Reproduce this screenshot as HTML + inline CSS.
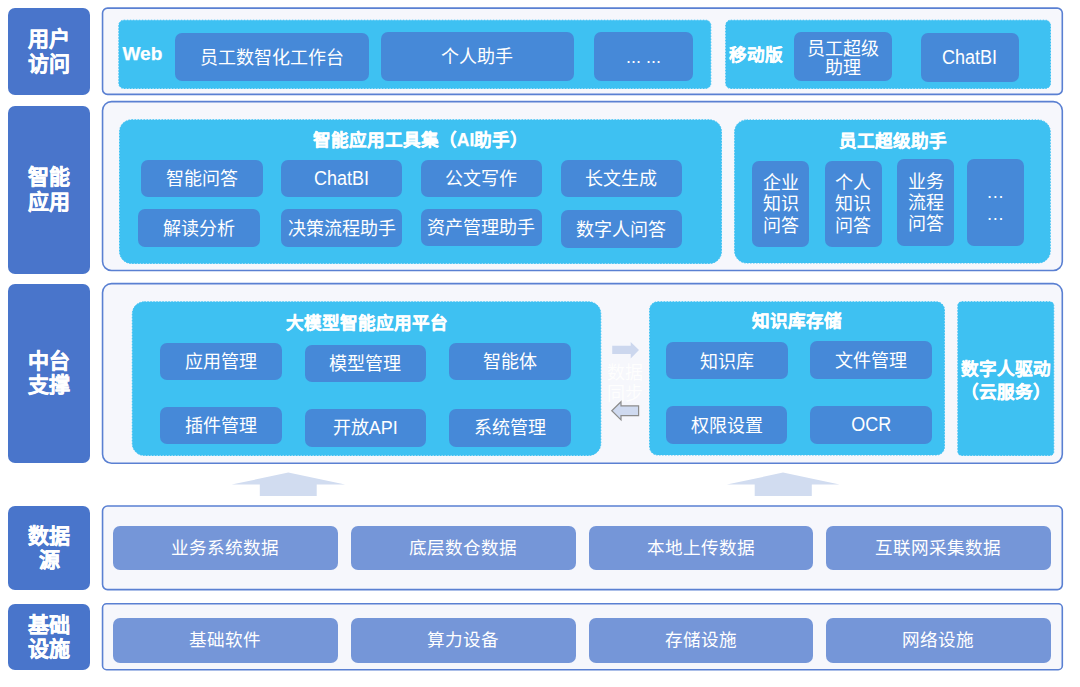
<!DOCTYPE html>
<html lang="zh-CN"><head><meta charset="utf-8"><title>architecture</title>
<style>
html,body{margin:0;padding:0;background:#fff;}
body{width:1080px;height:687px;position:relative;overflow:hidden;font-family:"Liberation Sans",sans-serif;}
div{position:absolute;box-sizing:border-box;}
.lab{background:#4975cb;border-radius:7px;color:#fff;font-weight:bold;-webkit-text-stroke:0.4px #fff;font-size:21px;line-height:24.5px;display:flex;align-items:center;justify-content:center;text-align:center;}
.btn{background:#4689d8;border-radius:7px;color:#fff;font-size:18px;line-height:20px;padding-top:1.5px;display:flex;align-items:center;justify-content:center;text-align:center;white-space:nowrap;}
.btn.ml{line-height:21.3px;padding-top:2px;}
.dbtn{background:#7596d8;border-radius:7px;color:#fff;font-size:17.6px;padding-bottom:3.5px;display:flex;align-items:center;justify-content:center;white-space:nowrap;}
.ttl{color:#fff;font-weight:bold;font-size:17.6px;-webkit-text-stroke:0.25px #fff;display:flex;align-items:center;justify-content:center;white-space:nowrap;text-align:center;}
.ml2{line-height:23px;}
.lt{display:inline-block;font-size:20px;transform:scaleX(0.9);position:relative;top:-1.5px;}
.faint{color:#ffffff;font-size:18px;line-height:21.5px;display:flex;align-items:center;justify-content:center;text-align:center;opacity:0.9}
</style></head><body>
<svg style="position:absolute;left:0;top:0" width="1080" height="687" viewBox="0 0 1080 687"><rect x="102.55" y="8.1" width="959.75" height="86.3" rx="5" fill="#f6f7fc" stroke="#5a80d2" stroke-width="1.6"/><rect x="102.55" y="101.6" width="959.75" height="168.9" rx="9" fill="#f6f7fc" stroke="#5a80d2" stroke-width="1.6"/><rect x="102.55" y="283.6" width="959.75" height="179.6" rx="9" fill="#f6f7fc" stroke="#5a80d2" stroke-width="1.6"/><rect x="102.55" y="506" width="959.75" height="83.6" rx="5" fill="#f6f7fc" stroke="#5a80d2" stroke-width="1.6"/><rect x="102.55" y="603.8" width="959.75" height="65.9" rx="4" fill="#f6f7fc" stroke="#5a80d2" stroke-width="1.6"/><rect x="118.8" y="20.2" width="592.0" height="68.3" rx="5" fill="#3ec1f2" stroke="#3ec1f2" stroke-width="1" stroke-dasharray="1.5 1.5"/><rect x="725.7" y="20.2" width="324.8" height="68.3" rx="5" fill="#3ec1f2" stroke="#3ec1f2" stroke-width="1" stroke-dasharray="1.5 1.5"/><rect x="119.5" y="119.8" width="602" height="143.7" rx="12" fill="#3ec1f2" stroke="#3ec1f2" stroke-width="1" stroke-dasharray="1.5 1.5"/><rect x="734.6" y="119.9" width="315.7" height="143.1" rx="12" fill="#3ec1f2" stroke="#3ec1f2" stroke-width="1" stroke-dasharray="1.5 1.5"/><rect x="132.3" y="301.8" width="468.5" height="153.7" rx="12" fill="#3ec1f2" stroke="#3ec1f2" stroke-width="1" stroke-dasharray="1.5 1.5"/><rect x="649.6" y="301.8" width="294.9" height="153.2" rx="8" fill="#3ec1f2" stroke="#3ec1f2" stroke-width="1" stroke-dasharray="1.5 1.5"/><rect x="957.8" y="301.7" width="96.0" height="153.8" rx="4" fill="#3ec1f2" stroke="#3ec1f2" stroke-width="1" stroke-dasharray="1.5 1.5"/></svg>
<div class="lab" style="left:8.3px;top:8px;width:82.0px;height:87px;">用户<br>访问</div>
<div class="lab" style="left:8.3px;top:105.5px;width:82.0px;height:168.5px;">智能<br>应用</div>
<div class="lab" style="left:8.3px;top:283.7px;width:82.0px;height:179.3px;">中台<br>支撑</div>
<div class="lab" style="left:8.3px;top:506.3px;width:82.0px;height:83.7px;">数据<br>源</div>
<div class="lab" style="left:8.3px;top:604.3px;width:82.0px;height:65.7px;">基础<br>设施</div>
<div class="btn" style="left:175.4px;top:32.9px;width:193.6px;height:47.9px;">员工数智化工作台</div>
<div class="btn" style="left:381px;top:32.4px;width:192.9px;height:48.4px;">个人助手</div>
<div class="btn" style="left:594.3px;top:32.4px;width:98.4px;height:48.4px;"><span style="letter-spacing:0">... ...</span></div>
<div class="btn ml" style="left:794px;top:32.2px;width:98px;height:48.5px;"><span style="display:block;line-height:19px;padding-top:4px">员工超级<br>助理</span></div>
<div class="btn" style="left:920.5px;top:33.3px;width:98.2px;height:48.4px;"><span class="lt">ChatBI</span></div>
<div class="btn" style="left:140.6px;top:160px;width:122.2px;height:37px;">智能问答</div>
<div class="btn" style="left:280.6px;top:160px;width:121.9px;height:37px;"><span class="lt">ChatBI</span></div>
<div class="btn" style="left:420.8px;top:159.8px;width:121.2px;height:37.2px;">公文写作</div>
<div class="btn" style="left:561px;top:159.8px;width:120.7px;height:37.2px;">长文生成</div>
<div class="btn" style="left:137.8px;top:209.2px;width:122.2px;height:38.3px;">解读分析</div>
<div class="btn" style="left:280.6px;top:209.2px;width:121.9px;height:38.3px;">决策流程助手</div>
<div class="btn" style="left:420.8px;top:208.7px;width:121.2px;height:37.3px;">资产管理助手</div>
<div class="btn" style="left:561px;top:210px;width:120.7px;height:37.5px;">数字人问答</div>
<div class="btn ml" style="left:752.4px;top:160.6px;width:56.7px;height:86.9px;">企业<br>知识<br>问答</div>
<div class="btn ml" style="left:824.7px;top:160.6px;width:57.3px;height:86.9px;">个人<br>知识<br>问答</div>
<div class="btn ml" style="left:897.3px;top:159.4px;width:57.0px;height:86.6px;">业务<br>流程<br>问答</div>
<div class="btn ml" style="left:967px;top:159.4px;width:56.6px;height:86.6px;">…<br>…</div>
<div class="btn" style="left:159.8px;top:342.7px;width:121.9px;height:37.3px;">应用管理</div>
<div class="btn" style="left:304.6px;top:344.5px;width:121.4px;height:37.7px;">模型管理</div>
<div class="btn" style="left:448.9px;top:342.8px;width:121.9px;height:36.9px;">智能体</div>
<div class="btn" style="left:160.4px;top:406.6px;width:121.3px;height:37.6px;">插件管理</div>
<div class="btn" style="left:304.6px;top:408.6px;width:121.4px;height:38.0px;">开放API</div>
<div class="btn" style="left:448.9px;top:408.6px;width:121.9px;height:38.0px;">系统管理</div>
<div class="btn" style="left:665.8px;top:342.4px;width:121.8px;height:37.1px;">知识库</div>
<div class="btn" style="left:810.4px;top:341.3px;width:121.5px;height:37.6px;">文件管理</div>
<div class="btn" style="left:665.8px;top:406.1px;width:121.5px;height:37.9px;">权限设置</div>
<div class="btn" style="left:810.4px;top:406.1px;width:121.5px;height:37.9px;"><span class="lt">OCR</span></div>
<div class="dbtn" style="left:112.7px;top:526px;width:225.3px;height:44px;">业务系统数据</div>
<div class="dbtn" style="left:351px;top:526px;width:224.7px;height:44px;">底层数仓数据</div>
<div class="dbtn" style="left:589px;top:526px;width:224.3px;height:44px;">本地上传数据</div>
<div class="dbtn" style="left:826px;top:526px;width:224.7px;height:44px;">互联网采集数据</div>
<div class="dbtn" style="left:112.7px;top:618.3px;width:225.3px;height:44.4px;">基础软件</div>
<div class="dbtn" style="left:351px;top:618.3px;width:224.7px;height:44.4px;">算力设备</div>
<div class="dbtn" style="left:589px;top:618.3px;width:224.3px;height:44.4px;">存储设施</div>
<div class="dbtn" style="left:826px;top:618.3px;width:224.7px;height:44.4px;">网络设施</div>
<div class="ttl" style="left:119.5px;top:127.8px;width:602.2px;height:22.0px;">智能应用工具集（AI助手）</div>
<div class="ttl" style="left:734.6px;top:128.3px;width:315.9px;height:22.0px;">员工超级助手</div>
<div class="ttl" style="left:132px;top:310.3px;width:469px;height:22.0px;">大模型智能应用平台</div>
<div class="ttl" style="left:649.5px;top:308.3px;width:295.1px;height:22.0px;">知识库存储</div>
<div class="ttl ml2" style="left:958px;top:356.5px;width:96px;height:48.0px;">数字人驱动<br>（云服务）</div>
<div class="ttl" style="left:119px;top:42px;width:51px;height:24px;justify-content:flex-start;padding-left:3.5px;font-size:19px">Web</div>
<div class="ttl" style="left:725.6px;top:41px;width:60.4px;height:24px;justify-content:flex-start;padding-left:3px;">移动版</div>
<div class="faint" style="left:601px;top:362px;width:48.5px;height:44px;">数据<br>同步</div>
<svg style="position:absolute;left:0;top:0" width="1080" height="687" viewBox="0 0 1080 687">
<polygon points="288.3,472.6 345.1,484.6 316.7,484.6 316.7,496 259.8,496 259.8,484.6 231.7,484.6" fill="#d1dcf0"/>
<polygon points="783,472.6 839.6,484.6 811.8,484.6 811.8,496 754.7,496 754.7,484.6 726.9,484.6" fill="#d1dcf0"/>
<polygon points="612.2,345.7 630.7,345.7 630.7,341.9 639,350 630.7,358.4 630.7,354 612.2,354" fill="#ccd7ee"/>
<polygon points="611.8,410.8 621,401.8 621,405.9 638.6,405.9 638.6,415.7 621,415.7 621,419.9" fill="#cfdaf0" stroke="#8c8c8c" stroke-width="1.2"/>
</svg>
</body></html>
